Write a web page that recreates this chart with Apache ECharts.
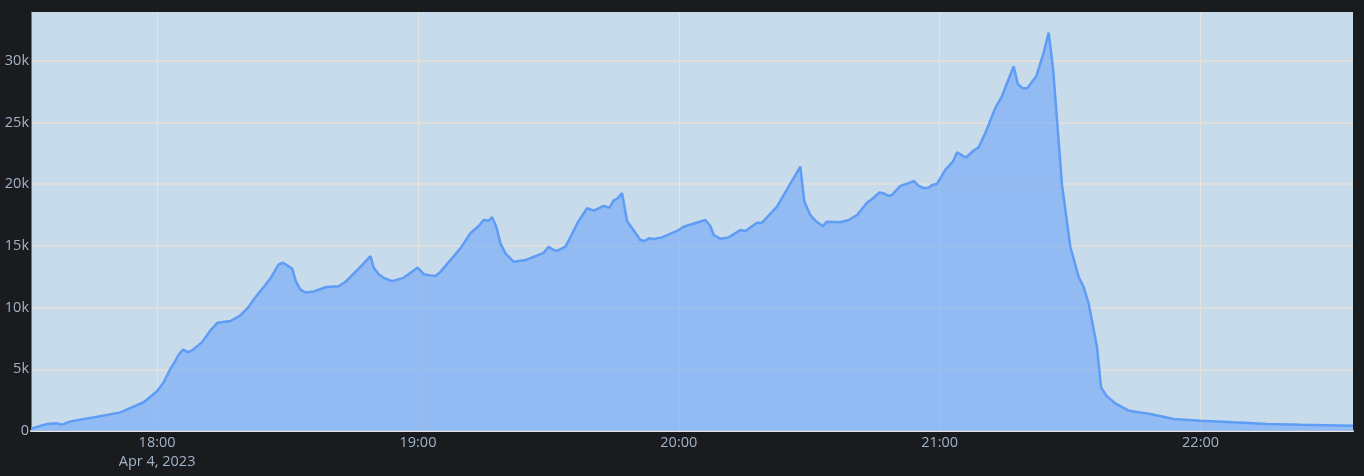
<!DOCTYPE html>
<html>
<head>
<meta charset="utf-8">
<script src="https://cdn.jsdelivr.net/npm/echarts@6/dist/echarts.min.js"></script>
<style>
  html, body { margin: 0; padding: 0; background: #1a1b1e; }
  #chart { width: 1364px; height: 476px; }
</style>
</head>
<body>
<div id="chart"></div>
<script>
const DATE = '2023-04-04';
const DATE_LABEL = 'Apr 4, 2023';

const times = [
  '17:31:00','17:34:42','17:37:00','17:38:09','17:40:04','17:46:12','17:51:34','17:56:55',
  '18:00:00','18:01:31','18:03:04','18:03:49','18:04:58','18:05:59','18:07:02','18:08:03',
  '18:10:21','18:12:16','18:13:56','18:16:52','18:19:10','18:21:04','18:22:05','18:26:04',
  '18:27:58','18:28:59','18:31:03','18:31:58','18:32:58','18:34:07','18:36:01','18:38:56',
  '18:41:46','18:43:19','18:45:13','18:47:09','18:49:04','18:49:49','18:50:58','18:52:07',
  '18:54:03','18:56:43','18:59:56','19:01:19','19:02:52','19:04:01','19:05:10','19:09:46',
  '19:12:04','19:13:58','19:15:07','19:16:16','19:17:03','19:18:02','19:18:58','19:20:07',
  '19:22:01','19:24:43','19:28:55','19:30:04','19:31:13','19:32:00','19:33:55','19:36:58',
  '19:38:54','19:40:25','19:42:43','19:44:02','19:45:01','19:45:56','19:46:57','19:48:06',
  '19:51:09','19:52:08','19:53:04','19:54:13','19:56:09','19:59:58','20:01:07','20:06:06',
  '20:07:15','20:08:01','20:09:33','20:11:28','20:14:09','20:15:18','20:17:59','20:19:08',
  '20:22:35','20:27:57','20:28:52','20:30:15','20:31:24','20:33:05','20:34:05','20:37:09',
  '20:39:04','20:41:00','20:43:17','20:44:26','20:46:11','20:46:58','20:48:16','20:49:02',
  '20:50:57','20:52:52','20:54:01','20:55:10','20:56:19','20:57:28','20:58:14','20:59:23',
  '21:01:18','21:03:04','21:03:59','21:06:04','21:07:49','21:08:58','21:10:30','21:12:48',
  '21:14:20','21:17:01','21:17:56','21:18:56','21:20:05','21:22:14','21:23:55','21:25:04',
  '21:26:04','21:28:08','21:30:03','21:31:58','21:33:07','21:34:16','21:36:11','21:37:07',
  '21:38:20','21:40:24','21:42:19','21:43:28','21:48:27','21:53:49','21:59:57','22:07:37',
  '22:15:17','22:22:57','22:35:04'
];

const values = [
  190, 570, 620, 510, 780, 1160, 1510, 2330,
  3220, 3950, 5040, 5450, 6200, 6590, 6390, 6530,
  7200, 8150, 8780, 8910, 9370, 10050, 10590, 12360,
  13500, 13630, 13170, 12080, 11460, 11220, 11300, 11670,
  11730, 12080, 12760, 13440, 14170, 13250, 12710, 12410,
  12140, 12410, 13250, 12710, 12600, 12570, 12890, 14800,
  16020, 16610, 17100, 17040, 17320, 16550, 15200, 14390,
  13710, 13850, 14440, 14930, 14660, 14600, 14930, 17020,
  18050, 17850, 18240, 18100, 18670, 18860, 19270, 17020,
  15470, 15390, 15610, 15550, 15690, 16280, 16550, 17100,
  16610, 15880, 15580, 15690, 16280, 16200, 16880, 16880,
  18180, 21430, 18590, 17500, 17040, 16610, 16960, 16910,
  17100, 17500, 18500, 18800, 19320, 19270, 19050, 19130,
  19860, 20080, 20270, 19860, 19670, 19720, 19940, 20020,
  21160, 21840, 22570, 22160, 22730, 22980, 24150, 26180,
  27120, 29560, 28150, 27800, 27750, 28750, 30650, 32280,
  29430, 19940, 14930, 12490, 11670, 10330, 6800, 3540,
  2870, 2240, 1870, 1650, 1380, 980, 840, 700,
  570, 510, 430
];

const yTicks = [0, 5000, 10000, 15000, 20000, 25000, 30000];
const Y_MAX = 33950;

const seriesData = times.map((t, i) => [DATE + ' ' + t, values[i]]);

const pad = n => (n < 10 ? '0' : '') + n;
const labelFont = { fontFamily: 'Open Sans', fontSize: 14.5, color: '#a2b3c8' };

const chart = echarts.init(document.getElementById('chart'), null, { renderer: 'canvas' });
chart.setOption({
  backgroundColor: '#1a1b1e',
  animation: false,
  grid: {
    left: 31, right: 11, top: 12, bottom: 45,
    show: true, backgroundColor: '#c8dbeb', borderWidth: 0
  },
  xAxis: {
    type: 'time',
    min: 'dataMin',
    max: 'dataMax',
    minInterval: 3600 * 1000,
    maxInterval: 3600 * 1000,
    axisLine: { show: true, lineStyle: { color: '#e9e6e1', width: 2 } },
    axisTick: { show: false },
    splitLine: { show: true, showMinLine: false, showMaxLine: false, lineStyle: { color: '#e6e2dc', width: 1 } },
    axisLabel: Object.assign({}, labelFont, {
      margin: 2,
      lineHeight: 19,
      showMinLabel: true,
      showMaxLabel: true,
      hideOverlap: false,
      formatter: function (v) {
        const d = new Date(v);
        if (d.getMinutes() !== 0 || d.getSeconds() !== 0) return '';
        const s = pad(d.getHours()) + ':00';
        return d.getHours() === 18 ? s + '\n' + DATE_LABEL : s;
      }
    })
  },
  yAxis: {
    type: 'value',
    min: 0,
    max: Y_MAX,
    interval: 5000,
    axisLine: { show: true, lineStyle: { color: '#6e7680', width: 1 } },
    axisTick: { show: false },
    splitLine: { show: true, showMinLine: false, showMaxLine: false, lineStyle: { color: '#e4e1dc', width: 1.6 } },
    axisLabel: Object.assign({}, labelFont, {
      margin: 2,
      showMaxLabel: false,
      formatter: function (v) {
        if (yTicks.indexOf(v) < 0) return '';
        return v === 0 ? '0' : (v / 1000) + 'k';
      }
    })
  },
  series: [{
    type: 'line',
    data: seriesData,
    symbol: 'none',
    smooth: false,
    lineStyle: { color: '#5e9cf5', width: 2.5 },
    areaStyle: { color: 'rgba(100,160,248,0.55)', opacity: 1 }
  }]
});
</script>
</body>
</html>
